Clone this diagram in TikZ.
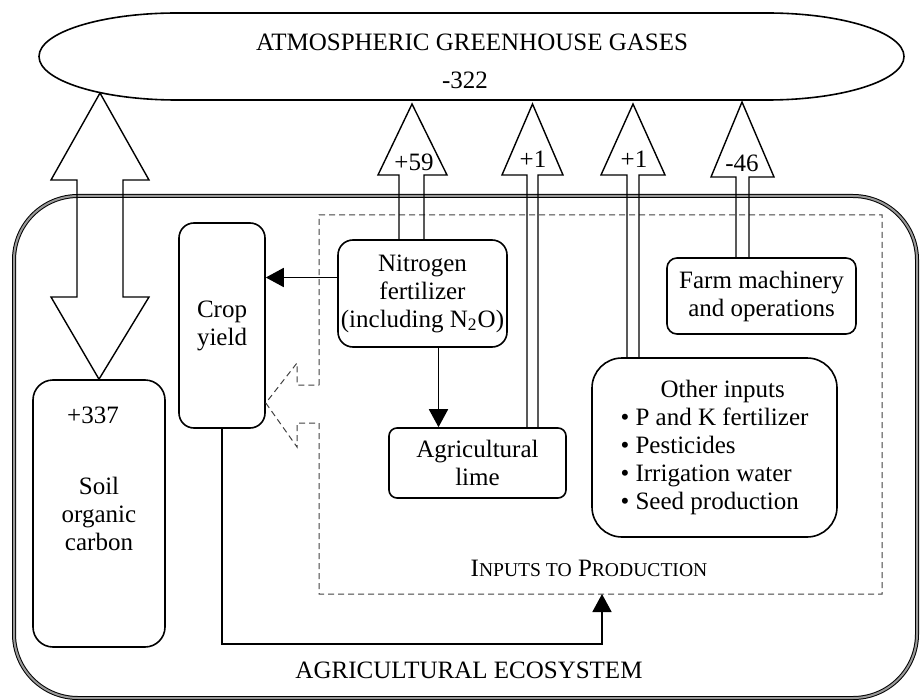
\documentclass[tikz,border=0pt]{standalone}
\usepackage{fontspec}
\setmainfont{Liberation Serif}
\usetikzlibrary{arrows.meta}

\begin{document}
\begin{tikzpicture}[x=0.5pt,y=-0.5pt,
    font=\fontsize{12.5}{14}\selectfont,
    box/.style={draw,line width=0.8pt,rounded corners=#1,inner sep=0pt,align=center},
    box/.default=7pt,
    block/.style={draw,line width=0.7pt,line join=miter},
    arr/.style={line width=0.9pt,-{Triangle[length=9pt,width=9.5pt]}},
    lbl/.style={inner sep=0pt}]
      \useasboundingbox (0,0) rectangle (920,700);

      % atmosphere
      \draw[line width=0.8pt] (177,13) -- (767,13)
        arc[start angle=-90,end angle=90,x radius=137,y radius=43.5] -- (177,100)
        arc[start angle=90,end angle=270,x radius=138,y radius=43.5] -- cycle;
      \node[lbl] (atmos) at (472,42) {ATMOSPHERIC GREENHOUSE GASES};
      \node[lbl] (atmosval) at (465,80) {-322};

      % ecosystem
      \draw[line width=0.5pt,double=black!40,double distance=1pt,rounded corners=32pt]
        (14,196) rectangle (917,698);
      \node[lbl] (ecosys) at (469,670) {AGRICULTURAL ECOSYSTEM};

      % boxes
      \node[box=10pt,minimum width=66pt,minimum height=133.5pt] (soil) at (99,513.5) {Soil\\organic\\carbon};
      \node[lbl] (soilval) at (93,415) {+337};
      \node[box=7.5pt,minimum width=43pt,minimum height=102.5pt] (crop) at (222,325.5) {Crop\\yield};
      \node[box=7.5pt,minimum width=84.5pt,minimum height=53.5pt] (nitro) at (422.5,293.5)
        {Nitrogen\\fertilizer\\(including N\textsubscript{2}O)};
      \node[box=4pt,minimum width=88.5pt,minimum height=35pt] (lime) at (477.5,463) {Agricultural\\lime};
      \node[box=5pt,minimum width=94.5pt,minimum height=38pt] (farm) at (761.5,296) {Farm machinery\\and operations};
      \node[box=15pt,minimum width=122.5pt,minimum height=89.5pt,align=left] (other) at (714.5,447.5)
        {\hspace*{1.6em}Other inputs\\\textbullet\ P and K fertilizer\\\textbullet\ Pesticides\\
         \textbullet\ Irrigation water\\\textbullet\ Seed production};

      % inputs to production
      \draw[line width=0.5pt,black!75,dash pattern=on 3pt off 2pt]
        (319,385) -- (319,215) -- (882,215) -- (882,594) -- (319,594) -- (319,423)
        -- (297,423) -- (297,447) -- (crop.east |- 0,403) -- (297,363) -- (297,385) -- cycle;
      \node[lbl] (inputs) at (589,568)
        {I{\fontsize{9.8}{11}\selectfont NPUTS TO} P{\fontsize{9.8}{11}\selectfont RODUCTION}};
      \coordinate (inport) at (602,594);

      % carbon flows
      \draw[block] (77,180) -- (51,180) -- (100,93) -- (149,180) -- (123,180) -- (123,297)
        -- (149,297) -- (soil.north) -- (51,297) -- (77,297) -- cycle;
      \draw[block] (399,0 |- nitro.north) -- (399,175) -- (378,175) -- (412,104)
        -- (447,175) -- (424,175) -- (424,0 |- nitro.north);
      \node[lbl] (n59) at (414,162) {+59};
      \draw[block] (527,0 |- lime.north) -- (527,175) -- (502,175) -- (532.5,104)
        -- (563,175) -- (538,175) -- (538,0 |- lime.north);
      \node[lbl] (lime1) at (533,159) {+1};
      \draw[block] (627,0 |- other.north) -- (627,175) -- (601,175) -- (633,104)
        -- (665,175) -- (639,175) -- (639,0 |- other.north);
      \node[lbl] (other1) at (634,159) {+1};
      \draw[block] (736,0 |- farm.north) -- (736,177) -- (711,177) -- (742,102)
        -- (774,177) -- (749,177) -- (749,0 |- farm.north);
      \node[lbl] (farm46) at (742,163) {-46};

      % links
      \coordinate (n2c) at ([yshift=8pt]nitro.west);
      \coordinate (n2l) at ([xshift=8pt]nitro.south);
      \draw[arr] (n2c) -- (n2c -| crop.east);
      \draw[arr] (n2l) -- (n2l |- lime.north);
      \draw[arr] (crop.south) -- ++(0,215) -| (inport);
    \end{tikzpicture}
\end{document}
